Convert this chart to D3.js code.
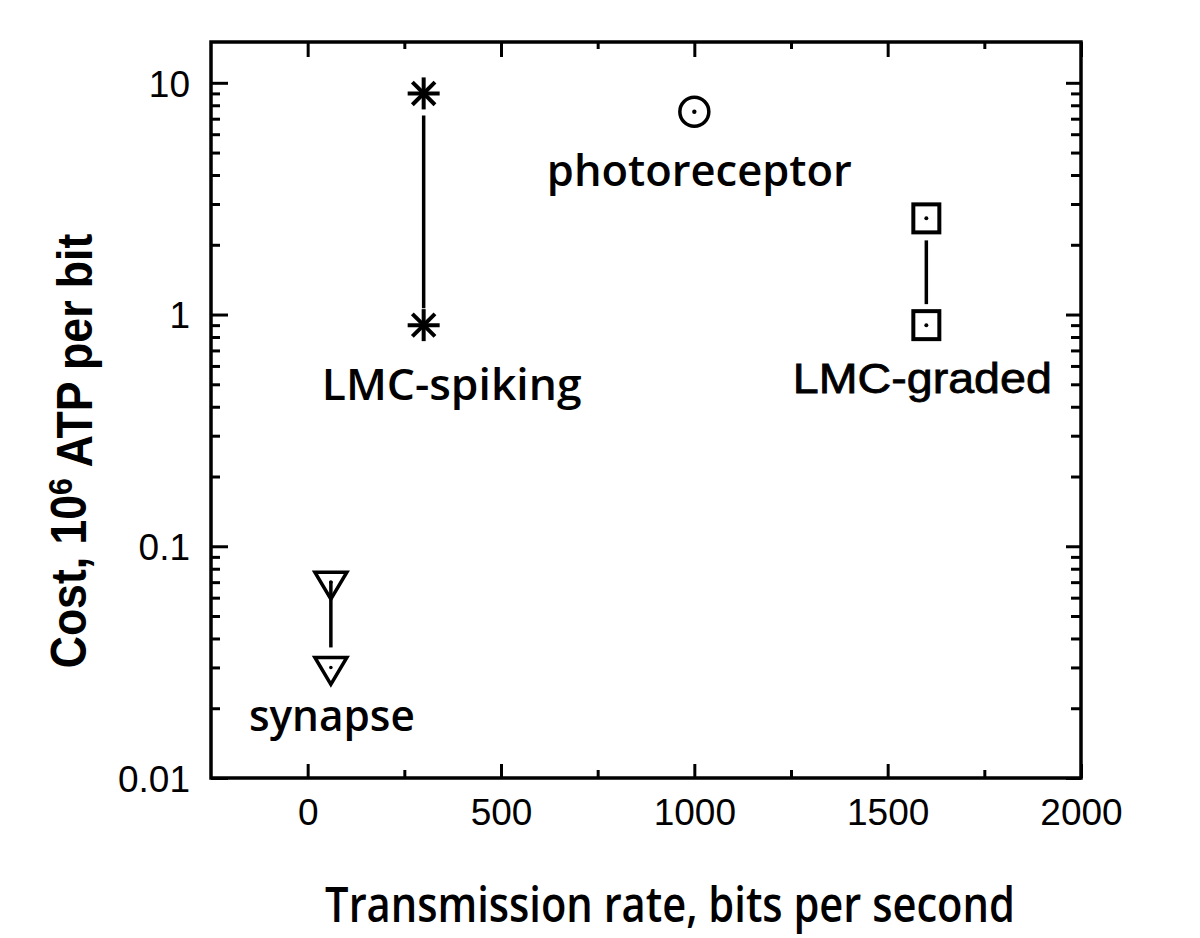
<!DOCTYPE html>
<html>
<head>
<meta charset="utf-8">
<script src="https://cdn.jsdelivr.net/npm/d3@7"></script>
<style>
  body { margin: 0; background: #fff; }
  svg { display: block; }
</style>
</head>
<body>
<div id="res"></div>
<script>
/* values */
var cells     = ["LMC-spiking", "photoreceptor", "LMC-graded", "synapse"];
var shapes    = ["asterisk", "circle", "square", "triangle"];
var rates     = [300, 1000, 1600, 60];     // bits per second
var costHigh  = [9, 7.5, 2.6, 0.07];       // 10^6 ATP per bit
var costLow   = [0.9, 7.5, 0.9, 0.03];

var xTicks      = [0, 500, 1000, 1500, 2000];
var xMinorTicks = [250, 750, 1250, 1750];
var yTicks      = [0.01, 0.1, 1, 10];
var yTickLabels = ["0.01", "0.1", "1", "10"];

/* size of the graphic */
var width = 1200, height = 938;
var mLeft = 211, mRight = 1081, mTop = 42, mBottom = 778;

var svg = d3.select("#res")
  .append("svg")
    .attr("width", width)
    .attr("height", height);

var x = d3.scaleLinear().domain([-250, 2000]).range([mLeft, mRight]);
var y = d3.scaleLog().domain([0.01, 15]).range([mBottom, mTop]);

/* all log ticks 1..9 per decade */
var yAll = [];
[0.01, 0.1, 1, 10].forEach(function(d) {
  for (var k = 1; k < 10; k++) {
    var v = +(d * k).toPrecision(3);
    if (v <= 15) yAll.push(v);
  }
});
function isMajorY(v) { return yTicks.indexOf(v) >= 0; }

var tickFont = "'Liberation Sans', Arial, sans-serif";

/* left axis with labels */
var gl = svg.append("g")
  .attr("transform", "translate(" + mLeft + ",0)")
  .call(d3.axisLeft(y).tickValues(yAll).tickSize(-17).tickPadding(21)
    .tickFormat(function(d) { var i = yTicks.indexOf(d); return i >= 0 ? yTickLabels[i] : ""; }));
gl.selectAll(".tick line").filter(function(d) { return !isMajorY(d); }).attr("x2", 9);

/* right axis */
var gr = svg.append("g")
  .attr("transform", "translate(" + mRight + ",0)")
  .call(d3.axisRight(y).tickValues(yAll).tickSize(-15).tickFormat(""));
gr.selectAll(".tick line").filter(function(d) { return !isMajorY(d); }).attr("x2", -10);

/* bottom axis with labels */
var gb = svg.append("g")
  .attr("transform", "translate(0," + mBottom + ")")
  .call(d3.axisBottom(x).tickValues(xTicks.concat(xMinorTicks)).tickSize(-14).tickPadding(20)
    .tickFormat(function(d) { return xTicks.indexOf(d) >= 0 ? d : ""; }));
gb.selectAll(".tick line").filter(function(d) { return xTicks.indexOf(d) < 0; }).attr("y2", -8);

/* top axis */
var gt = svg.append("g")
  .attr("transform", "translate(0," + mTop + ")")
  .call(d3.axisTop(x).tickValues(xTicks.concat(xMinorTicks)).tickSize(-15).tickFormat(""));
gt.selectAll(".tick line").filter(function(d) { return xTicks.indexOf(d) < 0; }).attr("y2", 7);

svg.selectAll(".domain").remove();
svg.selectAll(".tick line").attr("stroke", "#000").attr("stroke-width", 3);
svg.selectAll(".tick text")
  .attr("fill", "#000")
  .style("font-family", tickFont)
  .style("font-size", "37px");
gl.selectAll(".tick text").attr("dy", "0.36em");
gb.selectAll(".tick text").attr("dy", "0.72em");

/* frame */
svg.append("rect")
  .attr("x", mLeft).attr("y", mTop)
  .attr("width", mRight - mLeft).attr("height", mBottom - mTop)
  .attr("fill", "none").attr("stroke", "#000").attr("stroke-width", 3.5);

/* stretch or squeeze a centred text to a given width */
function fitText(t, w) {
  var bb = t.node().getBBox();
  var s = w / bb.width;
  var cx = bb.x + bb.width / 2;
  t.attr("transform",
    "translate(" + cx + ",0) scale(" + s + ",1) translate(" + (-cx) + ",0)");
}

/* connecting lines */
var gaps = { asterisk: [22, 17], circle: [0, 0], square: [22, 21], triangle: [-1, 20] };
var lines = svg.append("g");
cells.forEach(function(c, i) {
  if (costHigh[i] === costLow[i]) return;
  var g = gaps[shapes[i]];
  lines.append("line")
    .attr("x1", x(rates[i])).attr("x2", x(rates[i]))
    .attr("y1", y(costHigh[i]) + g[0])
    .attr("y2", y(costLow[i]) - g[1])
    .attr("stroke", "#000").attr("stroke-width", 3.5);
});

/* markers */
function drawMarker(shape, cx, cy) {
  var g = svg.append("g").attr("transform", "translate(" + cx + "," + cy + ")")
    .attr("fill", "none").attr("stroke", "#000").attr("stroke-width", 4);
  if (shape === "asterisk") {
    var r = 16;
    [0, 45, 90, 135].forEach(function(a) {
      var rad = a * Math.PI / 180;
      g.append("line")
        .attr("x1", -r * Math.cos(rad)).attr("y1", -r * Math.sin(rad))
        .attr("x2", r * Math.cos(rad)).attr("y2", r * Math.sin(rad));
    });
  } else if (shape === "circle") {
    g.append("circle").attr("r", 14.5).attr("stroke-width", 3.5);
    g.append("circle").attr("r", 2.2).attr("fill", "#000").attr("stroke", "none");
  } else if (shape === "square") {
    g.append("rect").attr("x", -13).attr("y", -14).attr("width", 26).attr("height", 28).attr("stroke-width", 4);
    g.append("circle").attr("r", 2).attr("fill", "#000").attr("stroke", "none");
  } else if (shape === "triangle") {
    g.append("path").attr("d", "M-16,-10 L16,-10 L0,17 Z").attr("stroke-width", 3.5).attr("stroke-linejoin", "miter");
    g.append("circle").attr("r", 1.8).attr("fill", "#000").attr("stroke", "none");
  }
}
cells.forEach(function(c, i) {
  drawMarker(shapes[i], x(rates[i]), y(costHigh[i]));
  if (costLow[i] !== costHigh[i]) drawMarker(shapes[i], x(rates[i]), y(costLow[i]));
});

/* cell labels, placed under the lower marker */
var labelStyle = {
  "LMC-spiking":   { dx: 28, dy: 75, w: 260, font: "'Open Sans', sans-serif", weight: 600, stroke: 0 },
  "photoreceptor": { dx: 5,  dy: 74, w: 305, font: "'Open Sans', sans-serif", weight: 600, stroke: 0 },
  "LMC-graded":    { dx: -4, dy: 68, w: 259, font: "'Liberation Sans', Arial, sans-serif", weight: 400, stroke: 0.8 },
  "synapse":       { dx: 1,  dy: 64, w: 166, font: "'Open Sans', sans-serif", weight: 600, stroke: 0 }
};
cells.forEach(function(c, i) {
  var st = labelStyle[c];
  var t = svg.append("text")
    .attr("x", x(rates[i]) + st.dx)
    .attr("y", y(costLow[i]) + st.dy)
    .attr("text-anchor", "middle")
    .style("font-family", st.font)
    .style("font-weight", st.weight)
    .style("font-size", "43px")
    .attr("fill", "#000")
    .attr("stroke", st.stroke ? "#000" : "none")
    .attr("stroke-width", st.stroke)
    .text(c);
  fitText(t, st.w);
});

/* axis titles */
var xt = svg.append("text")
  .attr("x", 670).attr("y", 922)
  .attr("text-anchor", "middle")
  .style("font-family", "'Open Sans', sans-serif")
  .style("font-weight", 600)
  .style("font-size", "48px")
  .attr("fill", "#000")
  .text("Transmission rate, bits per second");
fitText(xt, 690);

var yt = svg.append("text")
  .attr("text-anchor", "middle")
  .style("font-family", "'Liberation Sans', Arial, sans-serif")
  .style("font-weight", 700)
  .style("font-size", "50px")
  .attr("fill", "#000");
yt.append("tspan").text("Cost, 10");
yt.append("tspan").attr("dy", "-0.4em").style("font-size", "34px").text("6");
yt.append("tspan").attr("dy", "0.4em").text(" ATP per bit");
var ybb = yt.node().getBBox();
var ys = 435 / ybb.width;
yt.attr("transform", "translate(86,451) rotate(-90) scale(" + ys + ",1)");
</script>
</body>
</html>
